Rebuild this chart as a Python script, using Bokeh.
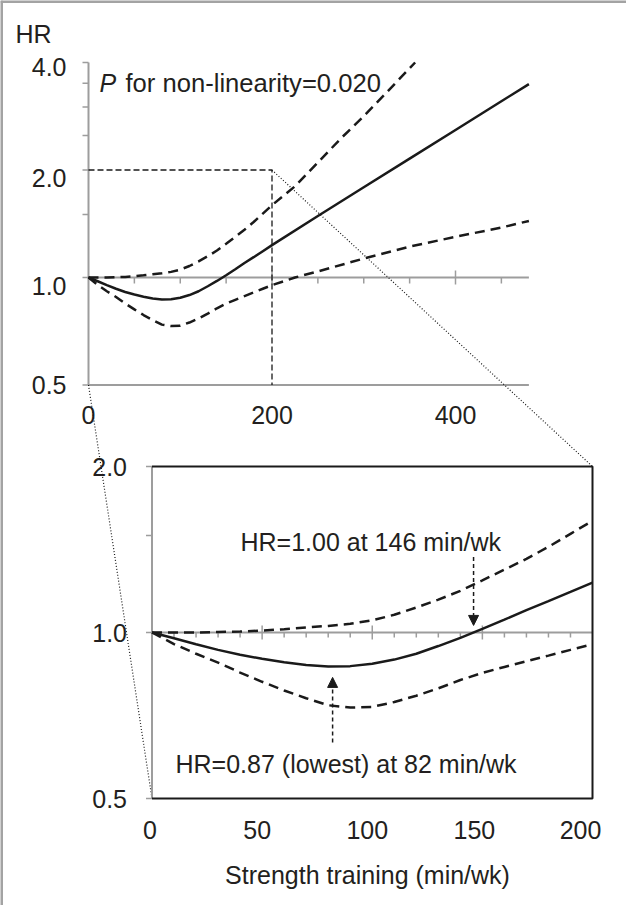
import math
import numpy as np
from bokeh.plotting import figure
from bokeh.models import Range1d, LogScale, LinearScale, Arrow, NormalHead, Span
from bokeh.core.properties import value
from bokeh.embed import file_html
from bokeh.resources import INLINE

# ---------------- data ----------------
minutes = [0, 10, 20, 30, 40, 50, 60, 70, 80, 90, 100, 110, 120, 130, 140, 150,
           160, 170, 180, 190, 200, 250, 300, 350, 400, 450, 480]
hr = [1.000, 0.976, 0.952, 0.930, 0.911, 0.896, 0.883, 0.873, 0.868, 0.869, 0.878,
      0.893, 0.915, 0.945, 0.978, 1.015, 1.055, 1.098, 1.140, 1.185, 1.232,
      1.487, 1.789, 2.152, 2.589, 3.115, 3.480]

lower_minutes = [0, 10, 20, 30, 40, 50, 60, 70, 80, 90, 100, 110, 120, 130, 140, 150,
                 160, 170, 180, 190, 200, 225, 250, 300, 350, 400, 450, 480]
lower = [1.000, 0.953, 0.915, 0.882, 0.846, 0.814, 0.785, 0.760, 0.738, 0.731, 0.733,
         0.748, 0.768, 0.792, 0.820, 0.845, 0.866, 0.887, 0.908, 0.930, 0.952,
         1.000, 1.040, 1.130, 1.220, 1.300, 1.380, 1.440]

upper_minutes = [0, 10, 20, 30, 40, 50, 60, 70, 80, 90, 100, 110, 120, 130, 140, 150,
                 160, 170, 180, 190, 200, 225, 250, 275, 300, 325, 356]
upper = [1.000, 1.000, 1.000, 1.002, 1.004, 1.008, 1.014, 1.021, 1.028, 1.037, 1.052,
         1.077, 1.110, 1.147, 1.190, 1.243, 1.300, 1.360, 1.430, 1.510, 1.594,
         1.800, 2.100, 2.450, 2.830, 3.300, 4.000]

top_x_ticks = [0, 200, 400]
top_x_minor = [50, 100, 150, 250, 300, 350, 450]
top_x_major_marks = [200, 400]
top_x_end = 480
top_y_ticks = [0.5, 1.0, 2.0, 4.0]
top_y_tick_labels = ["0.5", "1.0", "2.0", "4.0"]
top_y_minor = [1.5, 2.5, 3.0, 3.5]

inset_x = [0, 200]
inset_y = [0.5, 2.0]
inset_x_ticks = [0, 50, 100, 150, 200]
inset_x_minor = [10, 20, 30, 40, 60, 70, 80, 90, 110, 120, 130, 140, 160, 170, 180, 190]
inset_x_major_marks = [50, 100, 150]
inset_y_ticks = [0.5, 1.0, 2.0]
inset_y_tick_labels = ["0.5", "1.0", "2.0"]
inset_y_minor = [1.5]

# annotations: (minutes, arrow tail HR, arrow tip HR)
arrow_146 = (146, 1.37, 1.03)
arrow_82 = (82, 0.632, 0.829)

# ---------------- layout ----------------
W, H = 626, 905
OFF = 8
FONT = value("Liberation Sans")
TXT = "#231f20"
GRAY = "#9d9d9d"
BLK = "#1a1a1a"
FS = "25px"


def lin_range(v1, p1, v2, p2, size):
    s = (p2 - p1) / (v2 - v1)
    start = v1 - p1 / s
    return start, start + size / s


def x_range_from(v1, px1, v2, px2):
    return lin_range(v1, px1 - OFF, v2, px2 - OFF, W)


def logy_range_from(v1, py1, v2, py2):
    b1 = H - (py1 - OFF)
    b2 = H - (py2 - OFF)
    a, b = lin_range(math.log10(v1), b1, math.log10(v2), b2, H)
    return 10 ** a, 10 ** b


# page-pixel anchors of each panel
TX = x_range_from(0, 96, 480, 536.4)
TY = logy_range_from(4.0, 70, 0.5, 392.5)
IX = x_range_from(0, 159.5, 200, 600)
IY = logy_range_from(2.0, 474, 0.5, 806)


def page_to_top(px, py):
    x = TX[0] + (px - OFF) / W * (TX[1] - TX[0])
    l0, l1 = math.log10(TY[0]), math.log10(TY[1])
    y = 10 ** (l0 + (H - (py - OFF)) / H * (l1 - l0))
    return x, y


def inset_to_page(x, y):
    px = OFF + (x - IX[0]) / (IX[1] - IX[0]) * W
    l0, l1 = math.log10(IY[0]), math.log10(IY[1])
    py = OFF + H - (math.log10(y) - l0) / (l1 - l0) * H
    return px, py


p = figure(width=W, height=H, x_range=Range1d(*TX), y_range=Range1d(*TY),
           y_axis_type="log", x_axis_location=None, y_axis_location=None,
           output_backend="svg", toolbar_location=None, min_border=0)
p.grid.visible = False
p.outline_line_color = None
p.background_fill_color = "white"
p.border_fill_color = "white"
p.extra_x_ranges = {"ins": Range1d(*IX)}
p.extra_y_ranges = {"ins": Range1d(*IY)}
p.extra_x_scales = {"ins": LinearScale()}
p.extra_y_scales = {"ins": LogScale()}
INS = dict(x_range_name="ins", y_range_name="ins")

# outer frame (left and top edges)
bx, by = page_to_top(9, 9)
p.add_layout(Span(location=bx, dimension="height", line_color="#a3a3a3", line_width=3))
p.add_layout(Span(location=by, dimension="width", line_color="#a3a3a3", line_width=3))

# ---------------- top panel ----------------
p.segment(x0=[0, 0, 0], y0=[top_y_ticks[0], top_y_ticks[0], 1.0],
          x1=[0, top_x_end, top_x_end], y1=[top_y_ticks[-1], top_y_ticks[0], 1.0],
          line_color=GRAY, line_width=2)
p.ray(x=[0] * 8, y=top_y_ticks + top_y_minor, length=6, angle=np.pi,
      length_units="screen", line_color=GRAY, line_width=1.5)
p.ray(x=top_x_minor, y=[1.0] * len(top_x_minor), length=6, angle=-np.pi / 2,
      length_units="screen", line_color=GRAY, line_width=1.5)
for ang in (np.pi / 2, -np.pi / 2):
    p.ray(x=top_x_major_marks, y=[1.0] * len(top_x_major_marks), length=7, angle=ang,
          length_units="screen", line_color=GRAY, line_width=1.5)

# zoom guide (dashed box edges)
p.line([inset_x[0], inset_x[1], inset_x[1]], [inset_y[1], inset_y[1], inset_y[0]],
       line_color=BLK, line_width=1.3, line_dash="6 3")

p.line(lower_minutes, lower, line_color=BLK, line_width=2.5, line_dash="10 6")
p.line(upper_minutes, upper, line_color=BLK, line_width=2.5, line_dash="10 6")
p.line(minutes, hr, line_color=BLK, line_width=2.5)

# tick labels
p.text(x=top_x_ticks, y=[top_y_ticks[0]] * 3, text=[str(v) for v in top_x_ticks],
       text_font=FONT, text_font_size=FS, text_color=TXT, text_align="center",
       text_baseline="middle", y_offset=30)
for v, lab, dy in zip(top_y_ticks, top_y_tick_labels, [0, 8, 8, 4]):
    p.text(x=[0], y=[v], text=[lab], text_font=FONT, text_font_size=FS, text_color=TXT,
           text_align="right", text_baseline="middle", x_offset=-22, y_offset=dy)

hx, hy = page_to_top(23, 41)
p.text(x=[hx], y=[hy], text=["HR"], text_font=FONT, text_font_size=FS, text_color=TXT,
       text_align="left", text_baseline="middle")
px_, py_ = page_to_top(107, 90)
p.text(x=[px_], y=[py_], text=["P"], text_font=FONT, text_font_size=FS, text_color=TXT,
       text_align="left", text_baseline="middle", text_font_style="italic")
px2, _ = page_to_top(133, 90)
p.text(x=[px2], y=[py_], text=["for non-linearity=0.020"], text_font=FONT,
       text_font_size="25.6px", text_color=TXT, text_align="left", text_baseline="middle")

# dotted connectors from the zoom box to the inset
for ix, iy in ((inset_x[1], inset_y[1]), (inset_x[0], inset_y[0])):
    cx, cy = page_to_top(*inset_to_page(ix, iy))
    p.line([ix, cx], [iy, cy], line_color=BLK, line_width=1.2, line_dash="1 2")

# ---------------- inset panel ----------------
p.segment(x0=[0, 0], y0=[inset_y[0], 1.0], x1=[0, inset_x[1]], y1=[inset_y[1], 1.0],
          line_color=GRAY, line_width=2, **INS)
p.line([inset_x[0], inset_x[1], inset_x[1], inset_x[0]],
       [inset_y[1], inset_y[1], inset_y[0], inset_y[0]],
       line_color=BLK, line_width=2, **INS)
p.ray(x=[0] * 4, y=inset_y_ticks + inset_y_minor, length=6, angle=np.pi,
      length_units="screen", line_color=GRAY, line_width=1.5, **INS)
p.ray(x=inset_x_minor, y=[1.0] * len(inset_x_minor), length=5, angle=-np.pi / 2,
      length_units="screen", line_color=GRAY, line_width=1.5, **INS)
for ang in (np.pi / 2, -np.pi / 2):
    p.ray(x=inset_x_major_marks, y=[1.0] * 3, length=7, angle=ang,
          length_units="screen", line_color=GRAY, line_width=1.5, **INS)

n_in = sum(1 for m in minutes if m <= inset_x[1])
nl_in = sum(1 for m in lower_minutes if m <= inset_x[1])
nu_in = sum(1 for m in upper_minutes if m <= inset_x[1])
p.line(lower_minutes[:nl_in], lower[:nl_in], line_color=BLK, line_width=2.5,
       line_dash="10 6", **INS)
p.line(upper_minutes[:nu_in], upper[:nu_in], line_color=BLK, line_width=2.5,
       line_dash="10 6", **INS)
p.line(minutes[:n_in], hr[:n_in], line_color=BLK, line_width=2.5, **INS)

for xm, y0, y1 in (arrow_146, arrow_82):
    p.add_layout(Arrow(x_start=xm, y_start=y0, x_end=xm, y_end=y1,
                       line_color=BLK, line_width=1.5, line_dash="4 3",
                       end=NormalHead(size=10, fill_color=BLK, line_color=BLK, line_width=1),
                       **INS))

# inset x labels sit slightly left of their ticks in the original
for v, dx in zip(inset_x_ticks, [-2, -5, -5, -8, -12]):
    p.text(x=[v], y=[inset_y[0]], text=[str(v)], text_font=FONT, text_font_size=FS,
           text_color=TXT, text_align="center", text_baseline="middle",
           x_offset=dx, y_offset=31, **INS)
p.text(x=[0] * 3, y=inset_y_ticks, text=inset_y_tick_labels, text_font=FONT,
       text_font_size=FS, text_color=TXT, text_align="right", text_baseline="middle",
       x_offset=-25, **INS)

for txt, pxl, pyl, al in (("HR=1.00 at 146 min/wk", 248, 549, "left"),
                          ("HR=0.87 (lowest) at 82 min/wk", 183, 771.5, "left"),
                          ("Strength training (min/wk)", 375, 882, "center")):
    tx_, ty_ = page_to_top(pxl, pyl)
    p.text(x=[tx_], y=[ty_], text=[txt], text_font=FONT, text_font_size=FS,
           text_color=TXT, text_align=al, text_baseline="middle")

open("out.html", "w").write(file_html(p, INLINE))
